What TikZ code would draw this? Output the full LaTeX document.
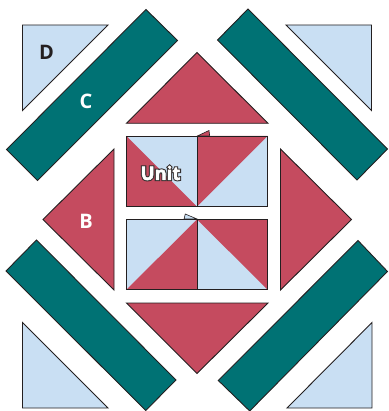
\documentclass[tikz,border=0pt]{standalone}
\usepackage{fontspec}
\setmainfont{Open Sans}
\definecolor{qblue}{HTML}{C9DFF3}
\definecolor{qred}{HTML}{C54B5F}
\definecolor{qteal}{HTML}{007274}
\definecolor{qline}{HTML}{231F20}
\newcommand{\haloword}[1]{\special{pdf:code q 2 Tr 2.6 w 0.2 0.18 0.18 RG 0.2 0.18 0.18 rg}#1\special{pdf:code 0 Tr Q}}
\newcommand{\faceword}[1]{\special{pdf:code q 2 Tr 0.5 w 1 1 1 RG 1 1 1 rg}#1\special{pdf:code 0 Tr Q}}
\tikzset{
  patch/.style={draw=qline,line width=0.9pt,line join=miter},
  bluepatch/.style={patch,fill=qblue},
  redpatch/.style={patch,fill=qred},
  tealpatch/.style={patch,fill=qteal},
  redfill/.style={fill=qred},
  biglabel/.style={font=\fontsize{20}{20}\selectfont\bfseries,inner sep=0pt},
  unitlabel/.style={font=\fontsize{18.5}{18.5}\selectfont\bfseries,inner sep=0pt},
}
\begin{document}
\begin{tikzpicture}[x=1pt,y=-1pt]
\useasboundingbox (0,0) rectangle (388,411);
% corner triangles D
\draw[bluepatch] (22.5,25) -- (108,25) -- (22.5,110.5) -- cycle;
\draw[bluepatch] (286,25) -- (371.5,25) -- (371.5,110.5) -- cycle;
\draw[bluepatch] (22.5,322.5) -- (22.5,408) -- (108,408) -- cycle;
\draw[bluepatch] (372,322.5) -- (372,408) -- (287,408) -- cycle;
% strips C
\draw[tealpatch] (146,9.5) -- (177.5,40.5) -- (37.5,180.5) -- (6.5,149.5) -- cycle;
\draw[tealpatch] (248,9) -- (217.5,40) -- (357,180) -- (387.5,149) -- cycle;
\draw[tealpatch] (36.5,240) -- (6,271) -- (145.7,410.5) -- (176,380) -- cycle;
\draw[tealpatch] (358,240.5) -- (387.5,271.5) -- (249.7,411) -- (218.3,380.5) -- cycle;
% triangles B
\draw[redpatch] (197,52.5) -- (268,123.3) -- (126.5,123.3) -- cycle;
\draw[redpatch] (126.5,303) -- (268,303) -- (197,373.5) -- cycle;
\draw[redpatch] (114,149) -- (114,290) -- (43,219.5) -- cycle;
\draw[redpatch] (280.5,149) -- (280.5,290) -- (351.5,219.5) -- cycle;
% small flaps
\draw[redpatch,line width=0.6pt] (197.3,136) -- (209,130.5) -- (209.7,136) -- cycle;
\draw[bluepatch,line width=0.6pt] (184,219) -- (185.3,214) -- (197,219) -- cycle;
% unit top
\fill[qblue] (126.5,136) rectangle (267.5,206.7);
\fill[redfill] (126.5,136) -- (197,206.7) -- (126.5,206.7) -- cycle;
\fill[redfill] (197,136) -- (267.5,136) -- (197,206.7) -- cycle;
\draw[patch] (126.5,136) rectangle (267.5,206.7);
\draw[patch] (197,136) -- (197,206.7);
% unit bottom
\fill[qblue] (126.5,219.3) rectangle (267.5,289.7);
\fill[redfill] (197,219.3) -- (197,289.7) -- (126.5,289.7) -- cycle;
\fill[redfill] (197,219.3) -- (267.5,219.3) -- (267.5,289.7) -- cycle;
\draw[patch] (126.5,219.3) rectangle (267.5,289.7);
\draw[patch] (197,219.3) -- (197,289.7);
% labels
\node[biglabel,text=qline] (labelD) at (46.5,52) {D};
\node[biglabel,text=white] (labelC) at (86,101.5) {C};
\node[biglabel,text=white] (labelB) at (86,221) {B};
\node[unitlabel] (labelUnitHalo) at (160.5,173) {\haloword{Unit}};
\node[unitlabel] (labelUnit) at (160.5,173) {\faceword{Unit}};
\end{tikzpicture}
\end{document}
